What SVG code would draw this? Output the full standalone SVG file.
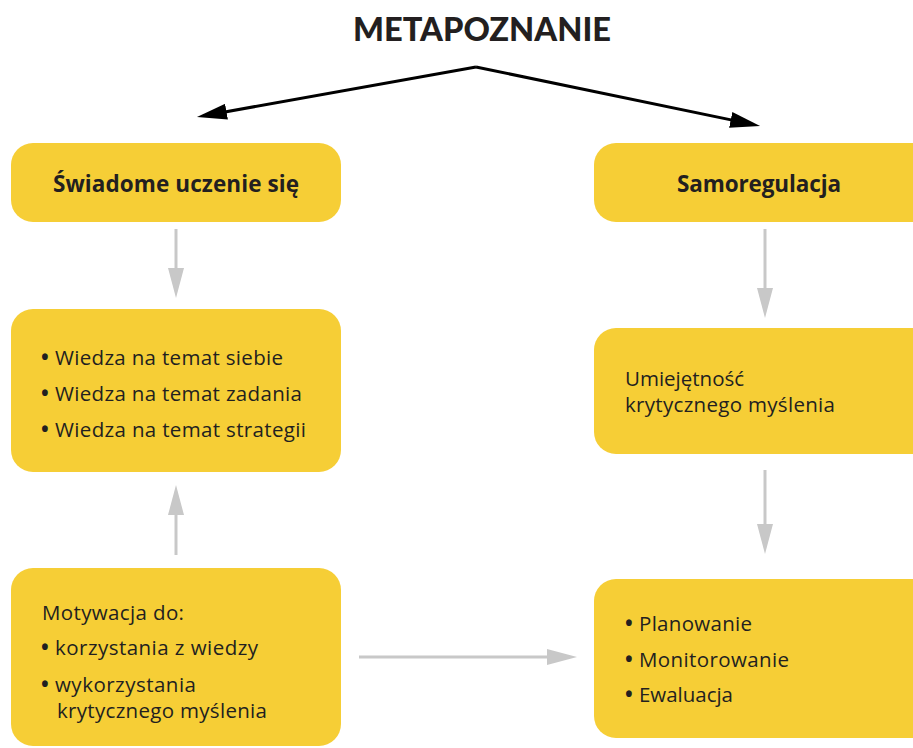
<svg xmlns="http://www.w3.org/2000/svg" width="913" height="748" viewBox="0 0 913 748">
  <defs>
    <style>
      .box { fill: #F6CE36; }
      .title { font-family: "Lato", "Liberation Sans", sans-serif; font-weight: 900; font-size: 32px; fill: #231F20; }
      .head { font-family: "Open Sans", "Liberation Sans", sans-serif; font-weight: 700; font-size: 22.5px; fill: #231F20; }
      .body { font-family: "Open Sans", "Liberation Sans", sans-serif; font-size: 20.5px; fill: #231F20; }
      .bul { font-family: "Open Sans", "Liberation Sans", sans-serif; font-weight: 700; font-size: 20.5px; fill: #231F20; }
      .gray { stroke: #C8C8C8; stroke-width: 3; fill: none; }
      .black { stroke: #000; stroke-width: 3; fill: none; }
    </style>
    <marker id="ah-gray" viewBox="0 0 30 16" refX="20" refY="8" markerWidth="30" markerHeight="16" markerUnits="userSpaceOnUse" orient="auto">
      <path d="M0,0 L30,8 L0,16 Z" fill="#C8C8C8"/>
    </marker>
    <marker id="ah-black" viewBox="0 0 30 16" refX="20" refY="8" markerWidth="30" markerHeight="16" markerUnits="userSpaceOnUse" orient="auto">
      <path d="M0,0 L30,8 L0,16 Z" fill="#000"/>
    </marker>
  </defs>

  <text id="title" class="title" x="482" y="41" text-anchor="middle" textLength="258" lengthAdjust="spacingAndGlyphs">METAPOZNANIE</text>

  <g id="connectors">
    <path class="black" d="M476,67 L206.8,115.2" marker-end="url(#ah-black)"/>
    <path class="black" d="M476,67 L750.3,123.9" marker-end="url(#ah-black)"/>
    <path class="gray" d="M176,229 L176,288" marker-end="url(#ah-gray)"/>
    <path class="gray" d="M176,555 L176,495" marker-end="url(#ah-gray)"/>
    <path class="gray" d="M765,229 L765,308" marker-end="url(#ah-gray)"/>
    <path class="gray" d="M765,470 L765,544" marker-end="url(#ah-gray)"/>
    <path class="gray" d="M359,657 L567,657" marker-end="url(#ah-gray)"/>
  </g>

  <g id="swiadome">
    <rect class="box" x="11" y="143" width="330" height="79" rx="22"/>
    <text class="head" x="176" y="192" text-anchor="middle" textLength="246" lengthAdjust="spacing">Świadome uczenie się</text>
  </g>

  <g id="wiedza">
    <rect class="box" x="11" y="309" width="330" height="163" rx="22"/>
    <text class="bul" x="41" y="365">•</text>
    <text class="body" x="55" y="365" textLength="228" lengthAdjust="spacing">Wiedza na temat siebie</text>
    <text class="bul" x="41" y="401">•</text>
    <text class="body" x="55" y="401" textLength="247" lengthAdjust="spacing">Wiedza na temat zadania</text>
    <text class="bul" x="41" y="437">•</text>
    <text class="body" x="55" y="437" textLength="251" lengthAdjust="spacing">Wiedza na temat strategii</text>
  </g>

  <g id="motywacja">
    <rect class="box" x="11" y="568" width="330" height="178" rx="22"/>
    <text class="body" x="42" y="620" textLength="142" lengthAdjust="spacing">Motywacja do:</text>
    <text class="bul" x="41" y="655">•</text>
    <text class="body" x="55" y="655" textLength="203" lengthAdjust="spacing">korzystania z wiedzy</text>
    <text class="bul" x="41" y="692">•</text>
    <text class="body" x="55" y="692" textLength="141" lengthAdjust="spacing">wykorzystania</text>
    <text class="body" x="57" y="718" textLength="210" lengthAdjust="spacing">krytycznego myślenia</text>
  </g>

  <g id="samoregulacja">
    <rect class="box" x="594" y="143" width="340" height="79" rx="22"/>
    <text class="head" x="759" y="192" text-anchor="middle" textLength="164" lengthAdjust="spacing">Samoregulacja</text>
  </g>

  <g id="umiejetnosc">
    <rect class="box" x="594" y="328" width="340" height="126" rx="22"/>
    <text class="body" x="625" y="386">Umiejętność</text>
    <text class="body" x="625" y="412" textLength="210" lengthAdjust="spacing">krytycznego myślenia</text>
  </g>

  <g id="planowanie">
    <rect class="box" x="594" y="579" width="340" height="159" rx="22"/>
    <text class="bul" x="625" y="631">•</text>
    <text class="body" x="639" y="631" textLength="113" lengthAdjust="spacing">Planowanie</text>
    <text class="bul" x="625" y="667">•</text>
    <text class="body" x="639" y="667" textLength="150" lengthAdjust="spacing">Monitorowanie</text>
    <text class="bul" x="625" y="702">•</text>
    <text class="body" x="639" y="702" textLength="94" lengthAdjust="spacing">Ewaluacja</text>
  </g>
</svg>
